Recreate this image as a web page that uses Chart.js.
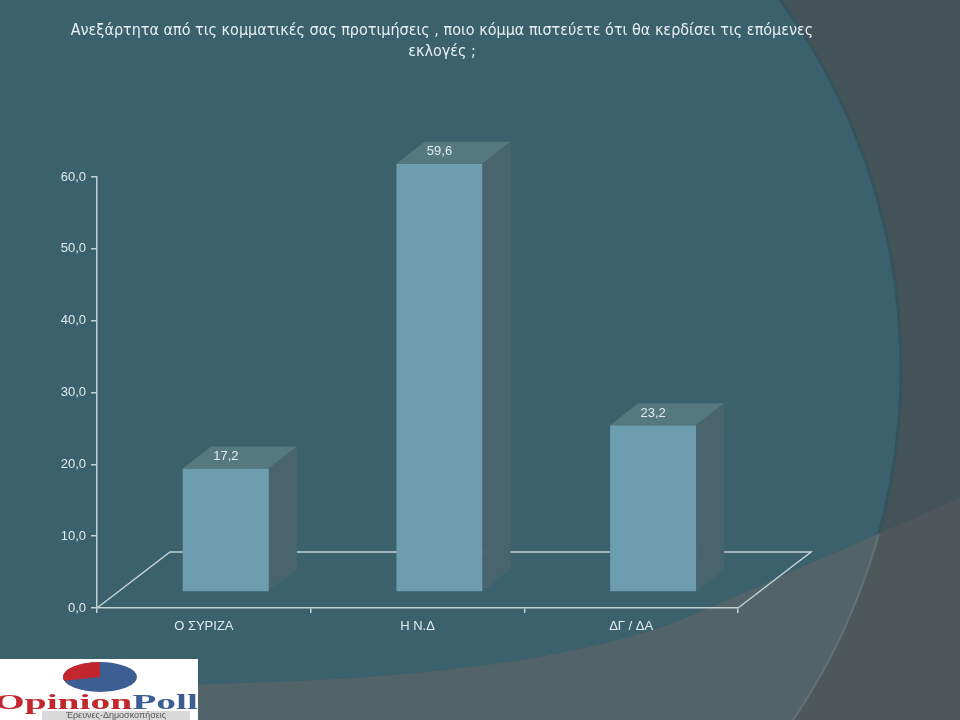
<!DOCTYPE html>
<html>
<head>
<meta charset="utf-8">
<script src="https://cdn.jsdelivr.net/npm/chart.js@4.4.1/dist/chart.umd.min.js"></script>
<style>
  html, body { margin: 0; padding: 0; overflow: hidden; background: #3b616d; }
</style>
</head>
<body>
<canvas id="pollChart" width="960" height="720"></canvas>
<script>
const titleLines = [
  'Ανεξάρτητα από τις κομματικές σας προτιμήσεις , ποιο κόμμα πιστεύετε ότι θα κερδίσει τις επόμενες',
  'εκλογές ;'
];
const categories = ['Ο ΣΥΡΙΖΑ', 'Η Ν.Δ', 'ΔΓ / ΔΑ'];
const values = [17.2, 59.6, 23.2];
const yMin = 0;
const yMax = 60;
const yStep = 10;

const fontFamily = '"Liberation Sans", Arial, sans-serif';
const lineColor = '#c3d1d5';
const textColor = '#e2eaec';

// 3D look: floor depth, bar depth and the shift of the bar fronts into the floor
const floorDepth = { dx: 73, dy: -56 };
const barDepth = { dx: 28, dy: -22 };
const barShift = { dx: 22, dy: -16 };

function fmt(v) {
  return Number(v).toFixed(1).replace('.', ',');
}

function bandPath(ctx) {
  ctx.beginPath();
  ctx.moveTo(960, 498);
  ctx.lineTo(700, 612);
  ctx.quadraticCurveTo(575, 668, 300, 681);
  ctx.lineTo(0, 692);
  ctx.lineTo(0, 720);
  ctx.lineTo(960, 720);
  ctx.closePath();
}

function circlePath(ctx) {
  ctx.beginPath();
  ctx.arc(277, 369, 624, 0, Math.PI * 2);
}

const background = {
  id: 'background',
  beforeDraw(chart) {
    const ctx = chart.ctx;
    ctx.save();
    ctx.fillStyle = '#445358';
    ctx.fillRect(0, 0, chart.width, chart.height);
    circlePath(ctx);
    ctx.fillStyle = '#3b616d';
    ctx.fill();
    ctx.strokeStyle = '#34535d';
    ctx.lineWidth = 3;
    ctx.stroke();

    bandPath(ctx);
    ctx.clip();
    ctx.fillStyle = '#4e575a';
    ctx.fillRect(0, 0, chart.width, chart.height);
    circlePath(ctx);
    ctx.fillStyle = '#52646a';
    ctx.fill();
    ctx.strokeStyle = 'rgba(120,140,146,0.45)';
    ctx.lineWidth = 2;
    ctx.stroke();
    ctx.restore();
  }
};

const bars3d = {
  id: 'bars3d',
  beforeDatasetsDraw(chart) {
    const ctx = chart.ctx;
    const a = chart.chartArea;
    // floor outline (front edge is the x axis border)
    ctx.save();
    ctx.strokeStyle = lineColor;
    ctx.lineWidth = 1.5;
    ctx.beginPath();
    ctx.moveTo(a.left, a.bottom);
    ctx.lineTo(a.left + floorDepth.dx, a.bottom + floorDepth.dy);
    ctx.lineTo(a.right + floorDepth.dx, a.bottom + floorDepth.dy);
    ctx.lineTo(a.right, a.bottom);
    ctx.stroke();
    ctx.restore();

    ctx.save();
    ctx.translate(barShift.dx, barShift.dy);
  },
  afterDatasetsDraw(chart) {
    const ctx = chart.ctx;
    const meta = chart.getDatasetMeta(0);
    meta.data.forEach((bar, i) => {
      const { x, y, base, width } = bar.getProps(['x', 'y', 'base', 'width'], true);
      const l = x - width / 2;
      const r = x + width / 2;
      // top face
      ctx.fillStyle = '#56787f';
      ctx.beginPath();
      ctx.moveTo(l, y);
      ctx.lineTo(r, y);
      ctx.lineTo(r + barDepth.dx, y + barDepth.dy);
      ctx.lineTo(l + barDepth.dx, y + barDepth.dy);
      ctx.closePath();
      ctx.fill();
      // side face
      ctx.fillStyle = '#4a646e';
      ctx.beginPath();
      ctx.moveTo(r, y);
      ctx.lineTo(r + barDepth.dx, y + barDepth.dy);
      ctx.lineTo(r + barDepth.dx, base + barDepth.dy);
      ctx.lineTo(r, base);
      ctx.closePath();
      ctx.fill();
      // value label on the top face
      ctx.fillStyle = textColor;
      ctx.font = '13px ' + fontFamily;
      ctx.textAlign = 'center';
      ctx.textBaseline = 'middle';
      ctx.fillText(fmt(values[i]), x, y - 12);
    });
    ctx.restore();
  }
};

const titleAndLogo = {
  id: 'titleAndLogo',
  afterDraw(chart) {
    const ctx = chart.ctx;
    ctx.save();
    ctx.fillStyle = '#e8eff1';
    ctx.font = '16px "Liberation Sans Narrow", "DejaVu Sans Condensed", sans-serif';
    ctx.textAlign = 'center';
    ctx.textBaseline = 'middle';
    ctx.fillText(titleLines[0], 442, 31);
    ctx.fillText(titleLines[1], 442, 52);

    // logo box
    ctx.fillStyle = '#ffffff';
    ctx.fillRect(0, 659, 198, 61);
    ctx.fillStyle = '#3d5e92';
    ctx.beginPath();
    ctx.ellipse(100, 677, 37, 15, 0, 0, Math.PI * 2);
    ctx.fill();
    ctx.fillStyle = '#c1272d';
    ctx.beginPath();
    ctx.moveTo(100, 677);
    ctx.ellipse(100, 677, 37, 15, 0, Math.PI - 0.25, Math.PI * 1.5);
    ctx.closePath();
    ctx.fill();

    ctx.font = 'bold 22px "Liberation Serif", serif';
    ctx.textAlign = 'left';
    ctx.textBaseline = 'alphabetic';
    const w1 = ctx.measureText('Opinion').width;
    const w2 = ctx.measureText('Poll').width;
    const sx = 204 / (w1 + w2);
    ctx.save();
    ctx.translate(-6, 709);
    ctx.scale(sx, 1);
    ctx.fillStyle = '#c1272d';
    ctx.fillText('Opinion', 0, 0);
    ctx.fillStyle = '#3d5e92';
    ctx.fillText('Poll', w1, 0);
    ctx.restore();

    ctx.fillStyle = '#d9d9d9';
    ctx.fillRect(42, 711, 148, 9);
    ctx.fillStyle = '#555555';
    ctx.font = '9px ' + fontFamily;
    ctx.textAlign = 'center';
    ctx.textBaseline = 'middle';
    ctx.fillText('Έρευνες-Δημοσκοπήσεις', 116, 716);
    ctx.restore();
  }
};

new Chart(document.getElementById('pollChart').getContext('2d'), {
  type: 'bar',
  data: {
    labels: categories,
    datasets: [{
      data: values,
      backgroundColor: '#6c9eb0',
      borderWidth: 0,
      barPercentage: 0.403,
      categoryPercentage: 1,
      clip: false
    }]
  },
  options: {
    responsive: false,
    animation: false,
    events: [],
    layout: {
      padding: { top: 177, right: 222, bottom: 0, left: 0 }
    },
    plugins: {
      legend: { display: false },
      tooltip: { enabled: false },
      title: { display: false }
    },
    scales: {
      x: {
        grid: { drawOnChartArea: false, tickLength: 5, color: lineColor, lineWidth: 1.5, offset: true },
        border: { color: lineColor, width: 1.5 },
        ticks: { color: textColor, font: { family: fontFamily, size: 13 }, padding: 6 },
        afterFit(scale) { scale.height = 112; }
      },
      y: {
        min: yMin,
        max: yMax,
        grid: { drawOnChartArea: false, tickLength: 6, color: lineColor, lineWidth: 1.5 },
        border: { color: lineColor, width: 1.5 },
        ticks: {
          stepSize: yStep,
          color: textColor,
          font: { family: fontFamily, size: 13 },
          padding: 5,
          callback: (v) => fmt(v)
        },
        afterFit(scale) { scale.width = 97; }
      }
    }
  },
  plugins: [background, bars3d, titleAndLogo]
});
</script>
</body>
</html>
